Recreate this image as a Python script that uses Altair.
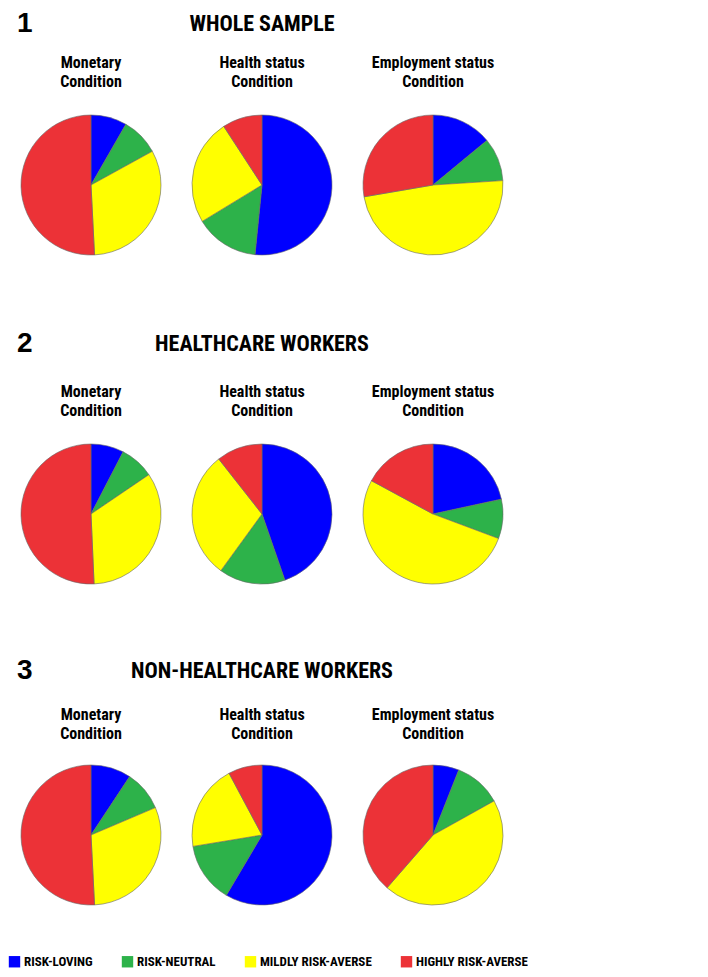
import altair as alt
import pandas as pd

categories = ["RISK-LOVING", "RISK-NEUTRAL", "MILDLY RISK-AVERSE", "HIGHLY RISK-AVERSE"]
colors = ["#0000FF", "#2DB24A", "#FFFF00", "#EC3237"]
groups = ["WHOLE SAMPLE", "HEALTHCARE WORKERS", "NON-HEALTHCARE WORKERS"]
group_numbers = ["1", "2", "3"]
conditions = [["Monetary", "Condition"], ["Health status", "Condition"], ["Employment status", "Condition"]]

# percentages per category (order of `categories`)
whole_monetary = [8.3, 8.7, 32.2, 50.8]
whole_health = [51.6, 14.7, 24.5, 9.2]
whole_employment = [14.0, 10.0, 48.3, 27.7]
hcw_monetary = [7.6, 7.9, 33.8, 50.7]
hcw_health = [44.7, 15.3, 29.4, 10.6]
hcw_employment = [21.6, 9.1, 52.2, 17.1]
nhcw_monetary = [9.3, 9.3, 30.6, 50.8]
nhcw_health = [58.5, 13.9, 19.8, 7.8]
nhcw_employment = [6.0, 10.9, 44.5, 38.6]

values = [
    [whole_monetary, whole_health, whole_employment],
    [hcw_monetary, hcw_health, hcw_employment],
    [nhcw_monetary, nhcw_health, nhcw_employment],
]

FONT = "Roboto Condensed, Liberation Sans, sans-serif"
PW, PH, R = 166, 160, 70
ROW_W = 3 * PW + 2 * 5
TITLE_OFFSETS = [15, 15, 13]


def pie(gi, ci, show_legend=False):
    df = pd.DataFrame({
        "category": categories,
        "value": values[gi][ci],
        "idx": list(range(len(categories))),
    })
    legend = alt.Legend(
        title=None, orient="bottom", direction="horizontal",
        symbolType="square", symbolSize=130, symbolStrokeWidth=0,
        labelFont=FONT, labelFontSize=13, labelFontWeight="bold", labelColor="#000",
        labelOffset=3, columnPadding=28, offset=40, padding=0,
    ) if show_legend else None
    return alt.Chart(df, title=alt.Title(
        conditions[ci], font=FONT, fontSize=16, fontWeight="bold", color="#000",
        anchor="middle", lineHeight=19, offset=TITLE_OFFSETS[gi],
    )).mark_arc(outerRadius=R, stroke="#666666", strokeWidth=0.6).encode(
        theta=alt.Theta("value:Q", stack=True),
        color=alt.Color("category:N", scale=alt.Scale(domain=categories, range=colors), legend=legend),
        order=alt.Order("idx:Q"),
    ).properties(width=PW, height=PH)


def header(gi, height, ty):
    num = alt.Chart(pd.DataFrame({"t": [group_numbers[gi]]})).mark_text(
        font="Liberation Sans, Arial, sans-serif", fontSize=28, fontWeight="bold",
        align="left", baseline="middle", color="#000",
    ).encode(text="t:N", x=alt.value(9), y=alt.value(ty))
    name = alt.Chart(pd.DataFrame({"t": [groups[gi]]})).mark_text(
        font=FONT, fontSize=22, fontWeight="bold",
        align="center", baseline="middle", color="#000",
    ).encode(text="t:N", x=alt.value(ROW_W / 2), y=alt.value(ty))
    return alt.layer(num, name).properties(width=ROW_W, height=height)


rows = []
head_specs = [(47, 16), (119, 79), (113, 77)]
for gi in range(3):
    rows.append(header(gi, *head_specs[gi]))
    rows.append(alt.hconcat(*[pie(gi, ci, show_legend=(gi == 0 and ci == 0)) for ci in range(3)], spacing=5))

chart = alt.vconcat(*rows, spacing=0).properties(padding=0).configure_view(stroke=None)

chart.save("out.html", embed_options={"renderer": "svg", "actions": False})
